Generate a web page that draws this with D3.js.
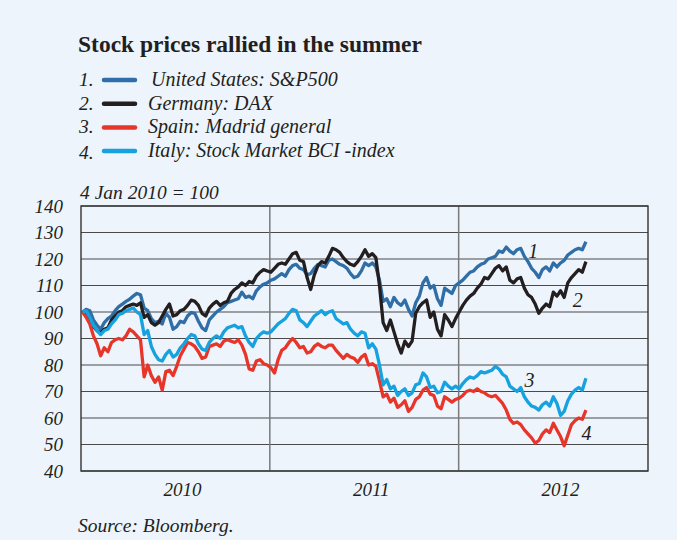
<!DOCTYPE html>
<html>
<head>
<meta charset="utf-8">
<script src="https://cdnjs.cloudflare.com/ajax/libs/d3/7.8.5/d3.min.js"></script>
<style>
	html, body { margin: 0; padding: 0; background: #edf4fc; }
	svg text { font-family: "Liberation Serif", "DejaVu Serif", serif; fill: #231f20; }
</style>
</head>
<body>
<script>
/* Data: weekly closes, 4 Jan 2010 = 100 (first week starts Mon 4 Jan 2010) */
var seriesNames = ["United States: S&P500", "Germany: DAX", "Spain: Madrid general", "Italy: Stock Market BCI -index"];
var seriesNums = ["1.", "2.", "3.", "4."];

var usValues = [
	100, 101, 100.5, 97, 95, 93.5, 96, 97.5, 98.5, 100.5, 102, 103, 104, 104.8, 106, 107, 106.5, 101.5, 100.5, 97.5,
	96, 96.5, 95.5, 99.5, 98, 93.5, 94.5, 96.5, 96, 98.5, 99.8, 99.5, 96.5, 94, 93, 97, 98.5, 100, 101, 102,
	103.5, 104, 104.5, 105, 107.5, 105.5, 106, 105, 108, 109.5, 110.5, 111,
	112, 112.5, 113.5, 114.5, 113.5, 116, 117.5, 118, 116.5, 116, 114, 114.5, 116.5, 118, 117.5, 117, 119.5, 120,
	119, 118, 117.5, 116.5, 114.5, 113, 113.5, 115.5, 118.5, 117.5, 118.5, 117, 112, 104, 105, 102, 105.5, 103.5,
	102.5, 104.5, 101, 98.5, 103.5, 106, 111, 113, 109, 110, 105, 102.5, 109, 108, 107, 110,
	111, 112, 113.5, 115, 115.5, 117, 118, 118.5, 120, 120.5, 121, 123, 122.5, 124.5, 123, 122, 123.5, 124, 121, 119,
	116.5, 115, 113, 116, 117, 115.5, 118.5, 117, 118.5, 119.5, 121.5, 122.5, 123.5, 124, 123.5, 126.5
];
var daxValues = [
	100, 99.5, 97.5, 94.5, 93, 92, 93.5, 94, 97, 98.5, 100, 100.5, 102, 102.5, 103, 102.5, 103.5, 98, 99, 96,
	95, 96, 98.5, 101, 103, 98.5, 99, 100.5, 101, 102.5, 104.5, 104, 102.5, 99.5, 98.5, 101.5, 103, 104, 102.5, 103.5,
	104, 107, 108.5, 109.5, 111, 110, 111.5, 111, 113.5, 115, 116, 115.5,
	115, 116.5, 118, 118.5, 118, 120, 122, 122.5, 119.5, 119, 113, 108.5, 114, 117.5, 119, 118.5, 121, 124,
	123.5, 122.5, 120.5, 119, 118, 117.5, 119, 121, 123.5, 121, 122, 120.5, 110, 96, 93, 97, 92.5, 88,
	84.5, 89, 87, 89, 99.5, 102, 103.5, 104.5, 98, 100, 93.5, 91, 99, 97, 94.5, 97.5,
	100, 102.5, 104.5, 106, 107, 109, 110.5, 113, 112.5, 114.5, 116.5, 117.5, 115.5, 117, 112, 111, 112.5, 113, 109, 106.5,
	105.5, 103, 99.5, 101.5, 103, 102, 107.5, 106, 108, 105.5, 111, 113, 114.5, 116, 115, 119
];
var spainValues = [
	100, 98, 95.5, 91, 88, 83.5, 86.5, 85, 88.5, 89.5, 90, 89.5, 91, 93.5, 92.5, 91, 89.5, 75.5, 80, 76,
	73.5, 75.5, 70.5, 77.5, 78, 76, 79.5, 83.5, 86, 88.5, 88, 87, 85, 82.5, 83, 87, 87.5, 88, 87, 89,
	89.5, 89, 88.5, 89.5, 87.5, 84, 78.5, 78, 81.5, 82, 80.5, 80,
	79, 77, 82, 85.5, 86.5, 88.5, 90, 88.5, 86.5, 87, 84.5, 85, 87, 88, 87, 86.5, 87.5, 87.5,
	85.5, 84, 82.5, 84, 83, 82.5, 81, 83, 84, 80, 80.5, 79.5, 74, 68, 69, 66, 67.5, 64,
	65, 66.5, 62.5, 64, 67, 68, 70.5, 71.5, 69, 68.5, 64.5, 63.5, 68, 67, 66, 67,
	67.5, 68.5, 70, 70.5, 70, 71, 70, 69.5, 68.5, 68, 68.5, 67, 65.5, 63, 59.5, 58, 58.5, 57.5, 55.5, 54,
	52.5, 50.5, 51.5, 54, 55.5, 54.5, 58, 55.5, 53, 49.5, 53.5, 57.5, 59, 60, 59.5, 63
];
var italyValues = [
	100, 100.5, 98, 95, 93, 91.5, 93, 93.5, 95.5, 97, 99, 99.5, 100.5, 101, 101.5, 100, 99, 91.5, 93, 87,
	84, 82, 81.5, 84, 85.5, 83, 84, 86.5, 88, 90, 91.5, 91, 88, 86, 85.5, 88.5, 90, 91, 90, 92.5,
	94, 94.5, 95, 94, 94.5, 91, 88.5, 87, 90, 91.5, 92.5, 92,
	92.5, 94, 95.5, 96.5, 97.5, 99.5, 101, 100.5, 97, 96, 94.5, 96.5, 98.5, 99.5, 100.5, 99, 100, 100.5,
	97.5, 96.5, 95.5, 96, 93.5, 92, 91, 92.5, 92, 86.5, 88, 86, 80, 72.5, 74.5, 71, 72, 68.5,
	70, 71, 68.5, 69.5, 72.5, 73, 77, 75.5, 71.5, 72, 69.5, 70, 73.5, 72, 71, 72,
	71, 73, 74.5, 75.5, 75, 76, 77.5, 77, 77.5, 78, 79.5, 78.5, 76.5, 75.5, 72, 71, 70, 71.5, 68, 66,
	64.5, 64, 63, 65, 66, 64.5, 68, 65.5, 61, 62.5, 66.5, 69, 70.5, 71.5, 70.5, 75
];

var yTicks = [40, 50, 60, 70, 80, 90, 100, 110, 120, 130, 140];
var yearLabels = ["2010", "2011", "2012"];

// numbers written next to the line ends
var lineLabels = [
	{text: "1", date: "2012-05-24", value: 123},
	{text: "2", date: "2012-08-18", value: 104.5},
	{text: "3", date: "2012-05-17", value: 74.5},
	{text: "4", date: "2012-09-04", value: 54.5}
];

/* Display setup */
var width = 677, height = 540,
	plot = {left: 81, right: 648, top: 206, bottom: 471},
	colors = ["#2f6ea6", "#231f20", "#e8352a", "#16a1df"],
	allValues = [usValues, daxValues, spainValues, italyValues],
	parseDate = d3.timeParse("%Y-%m-%d"),
	startWeek = new Date(2010, 0, 4),
	dates = usValues.map(function(d, i) { return d3.timeWeek.offset(startWeek, i); });

var svg = d3.select("body").append("svg")
	.attr("width", width)
	.attr("height", height);

svg.append("rect")
	.attr("width", width)
	.attr("height", height)
	.style("fill", "#edf4fc");

var x = d3.scaleTime()
	.domain([new Date(2010, 0, 1), new Date(2013, 0, 1)])
	.range([plot.left, plot.right]);
var y = d3.scaleLinear()
	.domain([40, 140])
	.range([plot.bottom, plot.top]);

/* Title and legend */
svg.append("text")
	.attr("x", 78)
	.attr("y", 52)
	.style("font-size", "23.5px")
	.style("font-weight", "bold")
	.text("Stock prices rallied in the summer");

var legend = svg.append("g").selectAll("g")
	.data(seriesNames)
	.enter().append("g")
		.attr("transform", function(d, i) { return "translate(0," + (80 + i * 23.7) + ")"; });

legend.append("text")
	.attr("x", 79)
	.attr("y", function(d, i) { return i == 3 ? 8 : 6; })
	.style("font-size", "19.5px")
	.style("font-style", "italic")
	.text(function(d, i) { return seriesNums[i]; });

legend.append("line")
	.attr("x1", 104)
	.attr("x2", 135)
	.style("stroke", function(d, i) { return colors[i]; })
	.style("stroke-width", 4.5)
	.style("stroke-linecap", "round");

legend.append("text")
	.attr("x", function(d, i) { return i == 0 ? 151 : 148; })
	.attr("y", 6)
	.style("font-size", "20px")
	.style("font-style", "italic")
	.text(function(d) { return d; });

svg.append("text")
	.attr("x", 80)
	.attr("y", 199)
	.style("font-size", "19.5px")
	.style("font-style", "italic")
	.text("4 Jan 2010 = 100");

/* Grid and axes */
svg.append("g").selectAll("line")
	.data(yTicks)
	.enter().append("line")
		.attr("x1", plot.left)
		.attr("x2", plot.right)
		.attr("y1", function(d) { return y(d); })
		.attr("y2", function(d) { return y(d); })
		.style("stroke", "#4a4a4a")
		.style("stroke-width", 1.2);

svg.append("g").selectAll("line")
	.data([new Date(2011, 0, 1), new Date(2012, 0, 1)])
	.enter().append("line")
		.attr("x1", function(d) { return x(d); })
		.attr("x2", function(d) { return x(d); })
		.attr("y1", plot.top)
		.attr("y2", plot.bottom)
		.style("stroke", "#7a7a7a")
		.style("stroke-width", 1.5);

svg.append("rect")
	.attr("x", plot.left)
	.attr("y", plot.top)
	.attr("width", plot.right - plot.left)
	.attr("height", plot.bottom - plot.top)
	.style("fill", "none")
	.style("stroke", "#333")
	.style("stroke-width", 1.4);

var yAxis = svg.append("g")
	.attr("transform", "translate(" + plot.left + ",0)")
	.call(d3.axisLeft(y).tickValues(yTicks).tickSize(0).tickPadding(18));

var xAxis = svg.append("g")
	.attr("transform", "translate(0," + plot.bottom + ")")
	.call(d3.axisBottom(x)
		.tickValues(yearLabels.map(function(d) { return new Date(+d, 6, 15); }))
		.tickFormat(d3.timeFormat("%Y"))
		.tickSize(0)
		.tickPadding(12));

[yAxis, xAxis].forEach(function(axis) {
	axis.select(".domain").remove();
	axis.selectAll("text")
		.style("font-family", "'Liberation Serif', 'DejaVu Serif', serif")
		.style("font-style", "italic")
		.style("font-size", "19px")
		.style("fill", "#231f20");
});

/* Lines */
var line = d3.line()
	.x(function(d, i) { return x(dates[i]); })
	.y(function(d) { return y(d); });

svg.append("g").selectAll("path")
	.data(allValues)
	.enter().append("path")
		.attr("d", line)
		.style("fill", "none")
		.style("stroke", function(d, i) { return colors[i]; })
		.style("stroke-width", 3.3)
		.style("stroke-linejoin", "round");

svg.append("g").selectAll("text")
	.data(lineLabels)
	.enter().append("text")
		.attr("x", function(d) { return x(parseDate(d.date)); })
		.attr("y", function(d) { return y(d.value); })
		.attr("text-anchor", "middle")
		.attr("dy", "0.35em")
		.style("font-size", "20px")
		.style("font-style", "italic")
		.text(function(d) { return d.text; });

svg.append("text")
	.attr("x", 78)
	.attr("y", 532)
	.style("font-size", "19.5px")
	.style("font-style", "italic")
	.text("Source: Bloomberg.");
</script>
</body>
</html>
